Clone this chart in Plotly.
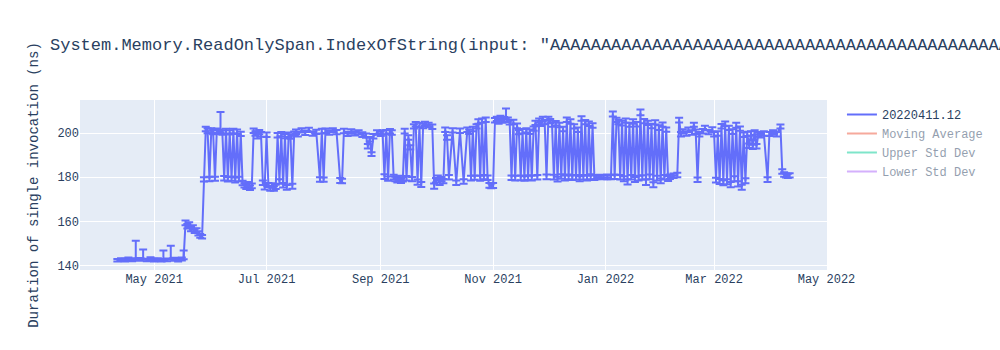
import pandas as pd
import plotly.graph_objects as go

# ---------------- data ----------------
dates = [
    "2021-04-11", "2021-04-13", "2021-04-15", "2021-04-17", "2021-04-19", "2021-04-21", "2021-04-23", "2021-04-25", "2021-04-27", "2021-04-29",
    "2021-05-01", "2021-05-03", "2021-05-05", "2021-05-06", "2021-05-08", "2021-05-10", "2021-05-12", "2021-05-14", "2021-05-16", "2021-05-17",
    "2021-05-18", "2021-05-19", "2021-05-20", "2021-05-21", "2021-05-22", "2021-05-23", "2021-05-24", "2021-05-25", "2021-05-26", "2021-05-27",
    "2021-05-28", "2021-05-29", "2021-05-30", "2021-05-31", "2021-06-01", "2021-06-02", "2021-06-03", "2021-06-04", "2021-06-05", "2021-06-06",
    "2021-06-07", "2021-06-08", "2021-06-09", "2021-06-10", "2021-06-11", "2021-06-12", "2021-06-13", "2021-06-14", "2021-06-15", "2021-06-16",
    "2021-06-17", "2021-06-18", "2021-06-19", "2021-06-20", "2021-06-21", "2021-06-22", "2021-06-23", "2021-06-24", "2021-06-25", "2021-06-26",
    "2021-06-27", "2021-06-28", "2021-06-29", "2021-06-30", "2021-07-01", "2021-07-02", "2021-07-03", "2021-07-04", "2021-07-05", "2021-07-06",
    "2021-07-07", "2021-07-08", "2021-07-09", "2021-07-10", "2021-07-11", "2021-07-12", "2021-07-13", "2021-07-14", "2021-07-15", "2021-07-16",
    "2021-07-17", "2021-07-18", "2021-07-20", "2021-07-22", "2021-07-24", "2021-07-26", "2021-07-28", "2021-07-30", "2021-07-31", "2021-08-01",
    "2021-08-02", "2021-08-04", "2021-08-06", "2021-08-08", "2021-08-10", "2021-08-11", "2021-08-12", "2021-08-14", "2021-08-16", "2021-08-18",
    "2021-08-20", "2021-08-22", "2021-08-24", "2021-08-25", "2021-08-26", "2021-08-27", "2021-08-28", "2021-08-30", "2021-09-01", "2021-09-02",
    "2021-09-03", "2021-09-04", "2021-09-05", "2021-09-06", "2021-09-07", "2021-09-08", "2021-09-09", "2021-09-10", "2021-09-11", "2021-09-12",
    "2021-09-13", "2021-09-14", "2021-09-15", "2021-09-16", "2021-09-17", "2021-09-18", "2021-09-19", "2021-09-20", "2021-09-21", "2021-09-22",
    "2021-09-23", "2021-09-24", "2021-09-25", "2021-09-27", "2021-09-29", "2021-09-30", "2021-10-01", "2021-10-02", "2021-10-03", "2021-10-04",
    "2021-10-05", "2021-10-06", "2021-10-07", "2021-10-08", "2021-10-10", "2021-10-12", "2021-10-14", "2021-10-16", "2021-10-18", "2021-10-19",
    "2021-10-20", "2021-10-21", "2021-10-22", "2021-10-23", "2021-10-24", "2021-10-25", "2021-10-26", "2021-10-27", "2021-10-28", "2021-10-29",
    "2021-10-30", "2021-10-31", "2021-11-01", "2021-11-02", "2021-11-03", "2021-11-04", "2021-11-05", "2021-11-06", "2021-11-07", "2021-11-08",
    "2021-11-09", "2021-11-10", "2021-11-11", "2021-11-12", "2021-11-13", "2021-11-14", "2021-11-15", "2021-11-16", "2021-11-17", "2021-11-18",
    "2021-11-19", "2021-11-20", "2021-11-21", "2021-11-22", "2021-11-23", "2021-11-24", "2021-11-25", "2021-11-26", "2021-11-27", "2021-11-28",
    "2021-11-29", "2021-11-30", "2021-12-01", "2021-12-02", "2021-12-03", "2021-12-04", "2021-12-05", "2021-12-06", "2021-12-07", "2021-12-08",
    "2021-12-09", "2021-12-10", "2021-12-11", "2021-12-12", "2021-12-13", "2021-12-14", "2021-12-15", "2021-12-16", "2021-12-17", "2021-12-18",
    "2021-12-19", "2021-12-20", "2021-12-21", "2021-12-22", "2021-12-23", "2021-12-24", "2021-12-25", "2021-12-26", "2021-12-27", "2021-12-29",
    "2021-12-31", "2022-01-02", "2022-01-04", "2022-01-05", "2022-01-06", "2022-01-07", "2022-01-08", "2022-01-09", "2022-01-10", "2022-01-11",
    "2022-01-12", "2022-01-13", "2022-01-14", "2022-01-15", "2022-01-16", "2022-01-17", "2022-01-18", "2022-01-19", "2022-01-20", "2022-01-21",
    "2022-01-22", "2022-01-23", "2022-01-24", "2022-01-25", "2022-01-26", "2022-01-27", "2022-01-28", "2022-01-29", "2022-01-30", "2022-01-31",
    "2022-02-01", "2022-02-02", "2022-02-03", "2022-02-04", "2022-02-05", "2022-02-07", "2022-02-09", "2022-02-10", "2022-02-11", "2022-02-12",
    "2022-02-14", "2022-02-15", "2022-02-17", "2022-02-18", "2022-02-19", "2022-02-20", "2022-02-21", "2022-02-23", "2022-02-24", "2022-02-26",
    "2022-02-28", "2022-03-01", "2022-03-02", "2022-03-03", "2022-03-04", "2022-03-05", "2022-03-06", "2022-03-07", "2022-03-08", "2022-03-09",
    "2022-03-10", "2022-03-11", "2022-03-12", "2022-03-13", "2022-03-14", "2022-03-15", "2022-03-16", "2022-03-17", "2022-03-18", "2022-03-19",
    "2022-03-20", "2022-03-21", "2022-03-22", "2022-03-23", "2022-03-24", "2022-03-25", "2022-03-26", "2022-03-28", "2022-03-30", "2022-03-31",
    "2022-04-02", "2022-04-04", "2022-04-06", "2022-04-07", "2022-04-08", "2022-04-09", "2022-04-10", "2022-04-11",
]

values = [
    142.3, 142.6, 142.4, 142.9, 142.5, 143.2, 142.7, 143.3, 142.5, 142.8,
    142.4, 142.6, 142.3, 143.0, 142.5, 143.4, 142.7, 142.4, 142.9, 143.5,
    159.2, 157.8, 158.5, 156.4, 157.2, 155.6, 156.0, 154.5, 153.4, 153.0,
    179.0, 201.8, 200.9, 179.2, 201.2, 200.4, 179.3, 201.0, 200.6, 201.3,
    200.2, 179.5, 200.8, 179.1, 200.3, 179.4, 200.9, 178.8, 200.5, 179.2,
    199.6, 177.4, 176.3, 175.6, 176.8, 175.2, 176.0, 201.0, 199.8, 198.5,
    200.4, 199.3, 177.5, 175.4, 199.2, 176.5, 175.0, 176.2, 174.8, 175.6,
    199.0, 178.0, 199.5, 176.4, 198.6, 175.3, 199.2, 198.4, 176.0, 199.8,
    200.6, 199.4, 201.2, 200.1, 201.4, 199.8, 200.5, 179.0, 200.8, 178.9,
    201.0, 200.2, 201.3, 200.4, 178.6, 178.2, 200.9, 199.6, 200.7, 199.9,
    200.3, 199.2, 198.8, 194.0, 197.2, 190.4, 198.5, 200.2, 199.6, 200.3,
    180.3, 200.4, 179.4, 200.8, 200.2, 180.0, 179.2, 178.8, 179.6, 178.4,
    179.0, 200.8, 179.5, 198.0, 193.5, 179.2, 203.0, 204.0, 177.8, 203.6,
    176.8, 203.2, 204.2, 203.6, 202.8, 176.0, 178.6, 179.8, 177.6, 179.2,
    178.2, 201.4, 198.0, 180.0, 201.2, 177.6, 201.0, 178.0, 201.4, 200.6,
    179.6, 201.8, 179.8, 203.0, 205.2, 179.5, 205.6, 180.0, 206.0, 179.8,
    176.4, 176.0, 176.3, 205.8, 206.4, 205.2, 206.8, 205.6, 206.2, 207.2,
    206.0, 204.8, 179.8, 205.0, 179.6, 203.2, 200.4, 179.7, 200.8, 179.5,
    201.2, 179.8, 200.6, 179.6, 202.0, 204.6, 180.0, 205.6, 204.2, 206.4,
    205.0, 180.2, 206.8, 205.4, 203.8, 180.0, 204.4, 179.2, 203.6, 180.4,
    201.8, 179.6, 206.0, 180.2, 205.2, 179.8, 203.0, 180.0, 201.4, 179.4,
    206.6, 180.0, 205.0, 179.6, 204.2, 180.2, 203.4, 179.8, 180.0, 180.2,
    180.0, 180.1, 180.0, 208.5, 180.2, 206.0, 205.0, 180.0, 204.4, 179.4,
    205.6, 178.0, 203.8, 180.0, 205.2, 179.0, 204.0, 179.6, 209.0, 180.0,
    205.4, 177.8, 204.6, 180.2, 203.2, 176.8, 204.8, 179.6, 202.4, 178.4,
    203.8, 180.0, 201.6, 179.4, 180.2, 180.6, 181.0, 205.8, 199.4, 200.8,
    199.8, 201.4, 200.2, 203.8, 200.6, 179.0, 199.4, 200.8, 202.2, 200.4,
    201.6, 199.4, 178.8, 199.8, 178.2, 203.0, 177.6, 204.2, 178.0, 202.4,
    176.8, 200.6, 179.4, 203.4, 177.2, 202.0, 175.6, 199.2, 178.4, 199.6,
    194.2, 199.8, 193.8, 200.2, 194.0, 199.4, 199.0, 199.8, 179.0, 199.6,
    200.2, 199.4, 203.0, 182.6, 181.2, 180.8, 180.6, 180.8,
]

err_up = [
    0.6, 0.7, 0.6, 0.7, 0.8, 8.0, 0.7, 3.9, 0.6, 0.9,
    0.6, 0.7, 0.6, 3.8, 0.7, 5.5, 0.8, 0.6, 0.7, 3.3,
    1.2, 1.0, 1.1, 1.0, 1.0, 1.0, 0.9, 1.0, 0.9, 0.8,
    1.0, 1.0, 1.2, 1.0, 1.0, 1.0, 0.9, 1.0, 1.0, 8.2,
    1.0, 1.0, 1.1, 1.0, 1.0, 0.9, 1.0, 1.0, 1.1, 1.0,
    1.0, 1.0, 0.9, 1.0, 1.0, 1.0, 1.1, 1.0, 1.0, 0.9,
    1.0, 1.1, 1.0, 1.0, 1.0, 0.9, 1.0, 1.0, 1.1, 1.0,
    1.0, 1.0, 0.9, 1.0, 1.0, 1.1, 1.0, 1.0, 1.0, 0.9,
    1.0, 1.1, 1.0, 1.0, 1.0, 0.9, 1.0, 1.0, 1.1, 1.0,
    1.0, 1.0, 0.9, 1.0, 1.0, 1.1, 1.0, 1.0, 1.0, 0.9,
    1.0, 1.1, 1.0, 1.0, 1.0, 0.9, 1.0, 1.0, 1.1, 1.0,
    1.0, 1.0, 0.9, 1.0, 1.0, 1.1, 1.0, 1.0, 1.0, 0.9,
    1.0, 1.1, 1.0, 1.0, 1.0, 0.9, 1.0, 1.0, 1.1, 1.0,
    1.0, 1.0, 0.9, 1.0, 1.0, 1.1, 1.0, 1.0, 1.0, 0.9,
    1.0, 1.1, 1.0, 1.0, 1.0, 0.9, 1.0, 1.0, 1.1, 1.0,
    1.0, 1.0, 0.9, 1.0, 1.0, 1.1, 1.0, 1.0, 1.0, 0.9,
    1.0, 1.1, 1.0, 1.0, 1.0, 0.9, 1.0, 1.0, 1.1, 3.9,
    1.0, 1.0, 0.9, 1.0, 1.0, 1.1, 1.0, 1.0, 1.0, 0.9,
    1.0, 1.1, 1.0, 1.0, 1.0, 0.9, 1.0, 1.0, 1.1, 1.0,
    1.0, 1.0, 0.6, 1.0, 1.0, 1.1, 1.0, 1.0, 1.0, 0.9,
    1.0, 1.1, 1.0, 1.0, 1.0, 0.9, 1.0, 1.0, 1.1, 1.0,
    1.0, 1.0, 0.9, 1.0, 1.0, 1.1, 1.0, 1.0, 1.0, 0.9,
    1.0, 1.1, 1.0, 1.2, 1.0, 0.9, 1.0, 1.0, 1.1, 1.0,
    1.0, 1.0, 0.9, 1.0, 1.0, 1.1, 1.0, 1.0, 1.6, 0.9,
    1.0, 1.1, 1.0, 1.0, 1.0, 0.9, 1.0, 1.0, 1.1, 1.0,
    1.0, 1.0, 0.9, 1.0, 1.0, 1.1, 1.0, 1.1, 1.0, 0.9,
    1.0, 1.1, 1.0, 0.8, 1.0, 0.9, 1.0, 1.0, 1.1, 1.0,
    1.0, 1.0, 0.9, 1.0, 1.0, 1.1, 1.0, 1.0, 1.0, 0.9,
    1.0, 1.1, 1.0, 1.2, 1.0, 0.9, 1.0, 1.0, 1.1, 1.0,
    1.0, 1.0, 0.9, 1.0, 1.0, 1.1, 1.0, 1.0, 1.0, 0.9,
    1.0, 1.1, 0.8, 1.0, 1.0, 0.9, 1.0, 1.0,
]

err_down = [
    0.5, 0.6, 0.6, 0.6, 0.6, 0.7, 0.6, 0.7, 0.6, 0.6,
    0.6, 0.5, 0.5, 0.6, 0.6, 0.7, 0.6, 0.6, 0.6, 0.7,
    1.0, 1.0, 1.0, 0.9, 1.0, 0.9, 0.9, 0.9, 0.8, 0.8,
    1.0, 1.0, 1.0, 1.0, 1.0, 1.0, 0.9, 1.0, 1.0, 1.0,
    1.0, 1.0, 1.0, 1.1, 1.0, 1.0, 1.0, 1.2, 1.0, 1.0,
    1.0, 1.1, 1.0, 1.0, 1.2, 1.0, 1.0, 1.0, 1.0, 1.0,
    1.0, 1.0, 1.1, 1.0, 1.0, 1.0, 1.2, 1.0, 1.0, 1.0,
    1.0, 1.0, 1.0, 1.1, 1.0, 1.0, 1.0, 1.0, 1.2, 1.0,
    1.0, 1.0, 1.0, 1.0, 1.0, 1.0, 1.0, 1.1, 1.0, 1.0,
    1.0, 1.0, 1.0, 1.0, 1.2, 1.0, 1.0, 1.0, 1.0, 1.0,
    1.0, 1.0, 1.0, 1.0, 1.0, 0.8, 1.0, 1.0, 1.0, 1.0,
    1.1, 1.0, 1.0, 1.0, 1.0, 1.1, 1.0, 1.2, 1.0, 1.0,
    1.0, 1.0, 1.0, 1.0, 1.0, 1.1, 1.0, 1.0, 1.2, 1.0,
    1.2, 1.0, 1.0, 1.0, 1.0, 1.3, 1.0, 1.0, 1.1, 1.0,
    1.0, 1.0, 1.0, 1.1, 1.0, 1.2, 1.0, 1.0, 1.0, 1.0,
    1.1, 1.0, 1.0, 1.0, 1.0, 1.1, 1.0, 1.0, 1.0, 1.1,
    1.2, 1.0, 1.2, 1.0, 1.0, 1.0, 1.0, 1.0, 1.0, 1.0,
    1.0, 1.0, 1.1, 1.0, 1.1, 1.0, 1.0, 1.1, 1.0, 1.1,
    1.0, 1.1, 1.0, 1.1, 1.0, 1.0, 1.1, 1.0, 1.0, 1.0,
    1.0, 1.1, 1.0, 1.0, 1.0, 1.1, 1.0, 1.2, 1.0, 1.1,
    1.0, 1.1, 1.0, 1.1, 1.0, 1.1, 1.0, 1.1, 1.0, 1.2,
    1.0, 1.1, 1.0, 1.1, 1.0, 1.1, 1.0, 1.1, 1.0, 1.0,
    1.0, 1.0, 1.0, 1.0, 1.0, 1.0, 1.0, 1.1, 1.0, 1.2,
    1.0, 1.3, 1.0, 1.1, 1.0, 1.2, 1.0, 1.1, 1.0, 1.1,
    1.0, 1.3, 1.0, 1.1, 1.0, 1.4, 1.0, 1.1, 1.0, 1.2,
    1.0, 1.1, 1.0, 1.1, 1.0, 1.0, 1.0, 1.0, 1.0, 1.0,
    1.0, 1.0, 1.0, 1.0, 1.0, 1.2, 1.0, 1.0, 1.0, 1.0,
    1.0, 1.0, 1.2, 1.0, 1.3, 1.0, 1.3, 1.0, 1.2, 1.0,
    1.4, 1.0, 1.2, 1.0, 1.4, 1.0, 1.3, 1.0, 1.2, 1.0,
    1.0, 1.0, 1.0, 1.0, 1.0, 1.0, 1.0, 1.0, 1.2, 1.0,
    1.0, 1.0, 1.0, 1.1, 1.0, 1.0, 1.0, 1.0,
]

assert len(dates) == len(values) == len(err_up) == len(err_down)

series_name = "20220411.12"
extra_names = ["Moving Average", "Upper Std Dev", "Lower Std Dev"]
title_text = ('System.Memory.ReadOnlySpan.IndexOfString(input: "'
              + "AAAAAAAAAAAAAAAAAAAAAAAAAAAAAAAAAAAAAAAAAAAAAAAAAAAAAAAAAAAAAAAAAAAAAAAAAAAAAAAAAAAAAAAAAAAAAAAAAAAAx"
              + '", value: "x", comparisonType: Ordinal)')
y_title = "Duration of single invocation (ns)"

# ---------------- figure ----------------
s = pd.Series(values)
ma = s.rolling(7, min_periods=1).mean()
sd = s.rolling(7, min_periods=1).std().fillna(0)

fig = go.Figure()
fig.add_trace(go.Scatter(
    x=dates, y=values, mode="lines", name=series_name,
    error_y=dict(type="data", symmetric=False, array=err_up, arrayminus=err_down),
))
fig.add_trace(go.Scatter(x=dates, y=ma, mode="lines", name=extra_names[0], visible="legendonly"))
fig.add_trace(go.Scatter(x=dates, y=ma + 2 * sd, mode="lines", name=extra_names[1], visible="legendonly"))
fig.add_trace(go.Scatter(x=dates, y=ma - 2 * sd, mode="lines", name=extra_names[2], visible="legendonly"))

fig.update_layout(
    width=1000, height=350,
    font=dict(family="Courier New, Liberation Mono, monospace"),
    title=dict(text=title_text),
    yaxis=dict(title=dict(text=y_title)),
)

fig.write_html("out.html")
